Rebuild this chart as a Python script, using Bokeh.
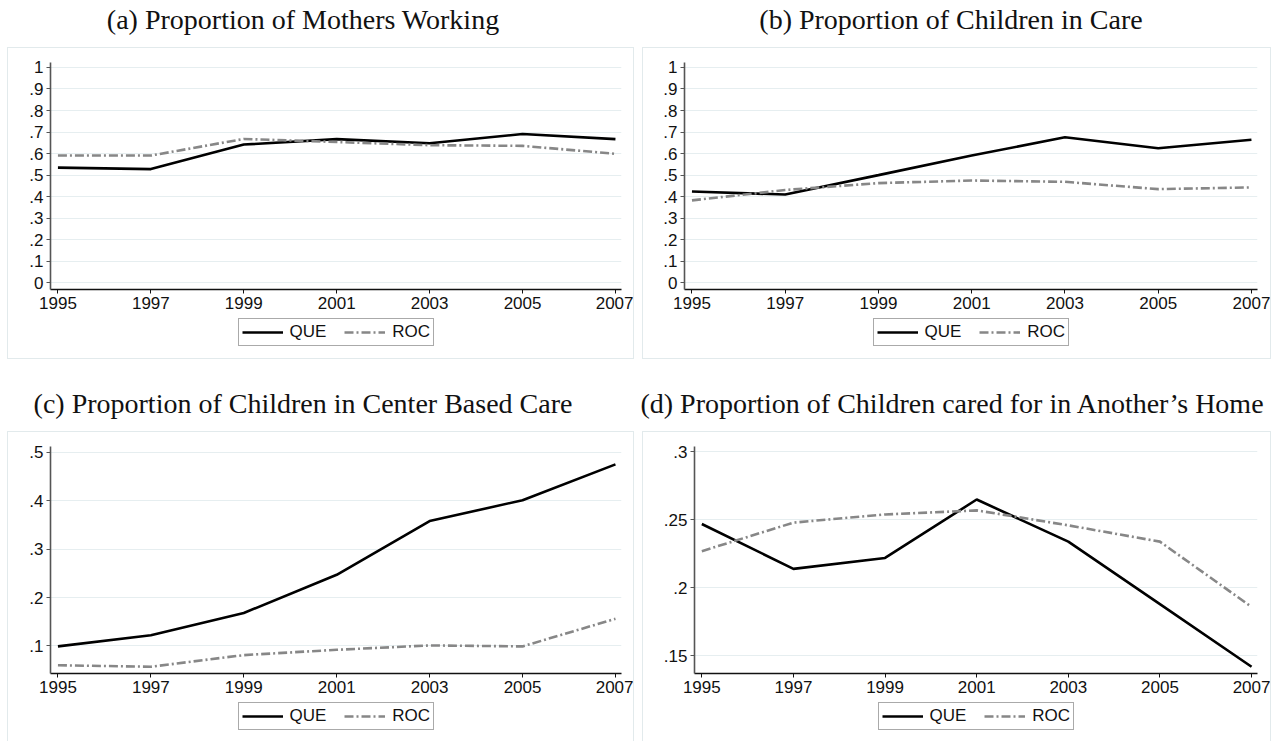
from bokeh.plotting import figure
from bokeh.models import FixedTicker, Legend, Div, Spacer, Range1d
from bokeh.layouts import row, column
from bokeh.embed import file_html
from bokeh.resources import INLINE

years = [1995, 1997, 1999, 2001, 2003, 2005, 2007]

titles = [
    "(a) Proportion of Mothers Working",
    "(b) Proportion of Children in Care",
    "(c) Proportion of Children in Center Based Care",
    "(d) Proportion of Children cared for in Another\u2019s Home",
]

que_a = [0.535, 0.528, 0.642, 0.667, 0.648, 0.691, 0.667]
roc_a = [0.591, 0.591, 0.668, 0.654, 0.639, 0.636, 0.599]

que_b = [0.424, 0.410, 0.500, 0.591, 0.676, 0.625, 0.664]
roc_b = [0.383, 0.431, 0.463, 0.475, 0.469, 0.435, 0.443]

que_c = [0.099, 0.122, 0.168, 0.247, 0.358, 0.401, 0.475]
roc_c = [0.060, 0.057, 0.081, 0.092, 0.101, 0.099, 0.156]

que_d = [0.247, 0.214, 0.222, 0.265, 0.234, 0.188, 0.142]
roc_d = [0.227, 0.248, 0.254, 0.257, 0.246, 0.234, 0.186]

ticks_ab = [0, 0.1, 0.2, 0.3, 0.4, 0.5, 0.6, 0.7, 0.8, 0.9, 1]
labels_ab = ["0", ".1", ".2", ".3", ".4", ".5", ".6", ".7", ".8", ".9", "1"]
ticks_c = [0.1, 0.2, 0.3, 0.4, 0.5]
labels_c = [".1", ".2", ".3", ".4", ".5"]
ticks_d = [0.15, 0.2, 0.25, 0.3]
labels_d = [".15", ".2", ".25", ".3"]

series_names = ["QUE", "ROC"]

SANS = "Liberation Sans"
SERIF = "Liberation Serif"
GRID = "#e6eef0"
BOX = "#e2eaec"
QUE_STYLE = dict(line_color="black", line_width=2.6)
ROC_STYLE = dict(line_color="#878787", line_width=2.6, line_dash="9 3 2 3")
LEG_W = 196
LEG_H = 26


def title_div(text, center, width):
    html = (
        f'<div style="position:relative;width:{width}px;height:48px;">'
        f'<span style="position:absolute;left:{center}px;top:4px;transform:translateX(-50%);'
        f'white-space:nowrap;font-family:\'{SERIF}\';font-size:28px;color:#111;line-height:32px;">'
        f'{text}</span></div>'
    )
    return Div(text=html, width=width, height=48, margin=(0, 0, 0, 0))


def panel(que, roc, ticks, labels, yr, width, left, right, leg_h, leg_top):
    p = figure(width=width, height=269, output_backend="svg", toolbar_location=None,
               x_range=Range1d(1994.84, 2007.13), y_range=Range1d(*yr),
               min_border_left=left, min_border_right=right, min_border_top=14,
               min_border_bottom=28)
    p.outline_line_color = None
    p.background_fill_color = "white"
    p.border_fill_color = "white"
    p.line(years, que, **QUE_STYLE)
    p.line(years, roc, **ROC_STYLE)
    p.xaxis.ticker = FixedTicker(ticks=years)
    p.yaxis.ticker = FixedTicker(ticks=ticks)
    p.yaxis.major_label_overrides = {t: l for t, l in zip(ticks, labels)}
    for ax in (p.xaxis[0], p.yaxis[0]):
        ax.major_label_text_font = SANS
        ax.major_label_text_font_size = "17px"
        ax.major_label_text_color = "#111"
        ax.minor_tick_line_color = None
        ax.major_tick_in = 0
        ax.major_tick_out = 4
        ax.major_label_standoff = 3
    p.xaxis.axis_line_color = "#111"
    p.xaxis.axis_line_width = 1.3
    p.xaxis.major_tick_line_color = "#111"
    p.yaxis.axis_line_color = "#555"
    p.yaxis.axis_line_width = 1.6
    p.yaxis.major_tick_line_color = "#555"
    p.yaxis.major_label_orientation = "horizontal"
    p.xgrid.grid_line_color = None
    p.ygrid.grid_line_color = GRID
    p.ygrid.grid_line_width = 1

    # legend strip below the axis (a small axis-less figure holding the key;
    # its frame is aligned with the plot frame above by the column layout)
    lf = figure(width=width, height=leg_h, output_backend="svg", toolbar_location=None,
                x_axis_type=None, y_axis_type=None,
                x_range=Range1d(0, 1), y_range=Range1d(0, 1),
                min_border=0, min_border_left=0, min_border_right=0,
                min_border_top=0, min_border_bottom=0)
    lf.grid.visible = False
    lf.outline_line_color = None
    lf.border_fill_color = "white"
    g1 = lf.line([-5, -4], [-5, -4], **QUE_STYLE)
    g2 = lf.line([-5, -4], [-5, -4], **ROC_STYLE)
    frame_w = width - left - right
    legend = Legend(items=[(series_names[0], [g1]), (series_names[1], [g2])],
                    orientation="horizontal",
                    location=((frame_w - LEG_W) / 2, leg_h - leg_top - LEG_H))
    legend.label_text_font = SANS
    legend.label_text_font_size = "17px"
    legend.label_text_color = "#111"
    legend.glyph_width = 41
    legend.glyph_height = 16
    legend.label_height = 16
    legend.label_standoff = 7
    legend.spacing = 18
    legend.padding = 3
    legend.margin = 0
    legend.border_line_color = "#555"
    legend.border_line_width = 1
    legend.background_fill_color = "white"
    legend.background_fill_alpha = 1
    lf.add_layout(legend)
    return column(p, lf, styles={"outline": f"1px solid {BOX}"})


pa = panel(que_a, roc_a, ticks_ab, labels_ab, (-0.031, 1.023), 625, 42, 12, 41, 3)
pb = panel(que_b, roc_b, ticks_ab, labels_ab, (-0.031, 1.023), 627, 41, 13, 41, 3)
pc = panel(que_c, roc_c, ticks_c, labels_c, (0.043, 0.512), 625, 42, 12, 40, 3)
pd = panel(que_d, roc_d, ticks_d, labels_d, (0.137, 0.304), 627, 51, 13, 40, 3)

col_a = column(title_div(titles[0], 303, 639), row(Spacer(width=8), pa))
col_b = column(title_div(titles[1], 312, 631), row(Spacer(width=4), pb))
col_c = column(title_div(titles[2], 303, 639), row(Spacer(width=8), pc))
col_d = column(title_div(titles[3], 313, 631), row(Spacer(width=4), pd))

layout = column(row(col_a, col_b), Spacer(height=26), row(col_c, col_d))

open("out.html", "w").write(file_html(layout, INLINE))
